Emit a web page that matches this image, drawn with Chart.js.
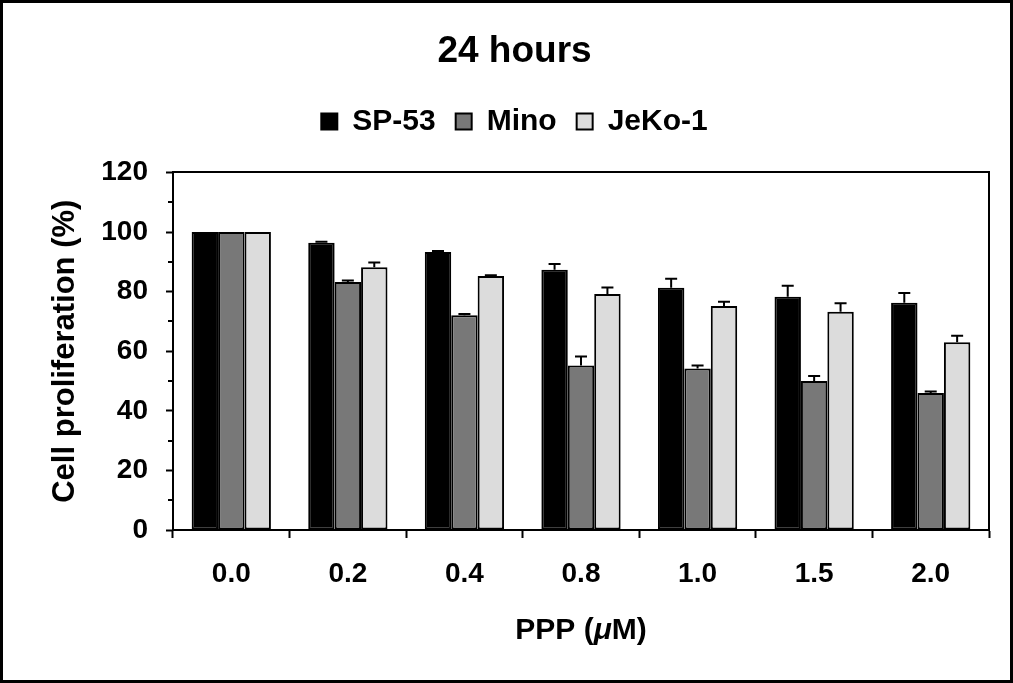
<!DOCTYPE html>
<html>
<head>
<meta charset="utf-8">
<script src="https://cdn.jsdelivr.net/npm/chart.js@4/dist/chart.umd.min.js"></script>
<style>
    body { margin: 0; background: #fff; }
    #wrap { position: relative; width: 1013px; height: 683px; }
    #chart { display: block; }
    #frame {
        position: absolute; left: 0; top: 0; width: 1013px; height: 683px;
        box-sizing: border-box; border: 3px solid #000; pointer-events: none;
    }
</style>
</head>
<body>
<div id="wrap">
    <canvas id="chart" width="1013" height="683"></canvas>
    <div id="frame"></div>
</div>
<script>
// concentrations of PPP (uM)
const doses = ["0.0", "0.2", "0.4", "0.8", "1.0", "1.5", "2.0"];

// cell proliferation (%) per cell line
const sp53 = [100, 96.4, 93.3, 87.3, 81.3, 78.3, 76.3];
const mino = [100, 83.2, 72.1, 55.2, 54.2, 50, 46];
const jeko = [100, 88.2, 85.2, 79.2, 75.2, 73.2, 63];

// upper error bars
const sp53Err = [0, 0.3, 0.3, 2, 3, 3.7, 3.2];
const minoErr = [0, 0.5, 0.4, 3, 1, 1.7, 0.5];
const jekoErr = [0, 1.6, 0.3, 2.2, 1.4, 2.9, 2.2];

const yMinorTicks = [10, 30, 50, 70, 90, 110];

// x axis title, the mu is set in italics
const xTitleParts = [["PPP (", "normal"], ["μ", "italic"], ["M)", "normal"]];

const fontFamily = "'Liberation Sans', Arial, Helvetica, sans-serif";
Chart.defaults.color = "#000";
Chart.defaults.font.family = fontFamily;

const errorBars = {
    id: "errorBars",
    afterDatasetsDraw(chart) {
        const ctx = chart.ctx;
        const y = chart.scales.y;
        ctx.save();
        ctx.strokeStyle = "#000";
        ctx.lineWidth = 2;
        chart.data.datasets.forEach((ds, i) => {
            const meta = chart.getDatasetMeta(i);
            meta.data.forEach((bar, j) => {
                const err = ds.errors[j];
                if (!err) return;
                const top = y.getPixelForValue(ds.data[j] + err);
                ctx.beginPath();
                ctx.moveTo(bar.x, bar.y);
                ctx.lineTo(bar.x, top);
                ctx.moveTo(bar.x - 6, top);
                ctx.lineTo(bar.x + 6, top);
                ctx.stroke();
            });
        });
        ctx.restore();
    }
};

const minorTicks = {
    id: "minorTicks",
    afterDraw(chart) {
        const ctx = chart.ctx;
        const y = chart.scales.y;
        const left = chart.chartArea.left;
        ctx.save();
        ctx.strokeStyle = "#000";
        ctx.lineWidth = 2;
        yMinorTicks.forEach(v => {
            const py = Math.round(y.getPixelForValue(v));
            ctx.beginPath();
            ctx.moveTo(left - 5, py);
            ctx.lineTo(left, py);
            ctx.stroke();
        });
        ctx.restore();
    }
};

const xTitle = {
    id: "xTitle",
    afterDraw(chart) {
        const ctx = chart.ctx;
        const area = chart.chartArea;
        const font = style => style + " bold 30px " + fontFamily;
        ctx.save();
        ctx.fillStyle = "#000";
        ctx.textBaseline = "middle";
        ctx.textAlign = "left";
        let total = 0;
        xTitleParts.forEach(p => { ctx.font = font(p[1]); total += ctx.measureText(p[0]).width; });
        let x = (area.left + area.right) / 2 - total / 2;
        const y = chart.scales.x.bottom - 52;
        xTitleParts.forEach(p => {
            ctx.font = font(p[1]);
            ctx.fillText(p[0], x, y);
            x += ctx.measureText(p[0]).width;
        });
        ctx.restore();
    }
};

function barSet(label, data, errors, color) {
    return {
        label: label,
        data: data,
        errors: errors,
        backgroundColor: color,
        borderColor: "#000",
        borderWidth: 2,
        borderSkipped: false,
        categoryPercentage: 0.68,
        barPercentage: 1.0
    };
}

new Chart(document.getElementById("chart"), {
    type: "bar",
    data: {
        labels: doses,
        datasets: [
            barSet("SP-53", sp53, sp53Err, "#000000"),
            barSet("Mino", mino, minoErr, "#787878"),
            barSet("JeKo-1", jeko, jekoErr, "#dcdcdc")
        ]
    },
    options: {
        responsive: false,
        animation: false,
        layout: { padding: { left: 16, right: 0, top: 0, bottom: 0 } },
        plugins: {
            title: {
                display: true,
                text: "24 hours",
                font: { size: 37, weight: "bold" },
                padding: { top: 30, bottom: 12 }
            },
            legend: {
                display: true,
                labels: {
                    boxWidth: 16,
                    boxHeight: 16,
                    padding: 20,
                    font: { size: 30, weight: "bold" }
                }
            },
            tooltip: { enabled: false }
        },
        scales: {
            x: {
                grid: {
                    offset: true,
                    drawOnChartArea: false,
                    drawTicks: true,
                    tickLength: 8,
                    tickWidth: 2,
                    tickColor: "#000"
                },
                border: { display: true, color: "#000", width: 2 },
                ticks: { font: { size: 28, weight: "bold" }, padding: 19, maxRotation: 0 },
                title: { display: false },
                afterFit(scale) { scale.height = 153; }
            },
            xTop: {
                type: "linear",
                position: "top",
                grid: { display: false },
                ticks: { display: false },
                border: { display: true, color: "#000", width: 2 },
                afterFit(scale) { scale.height = 26; }
            },
            y: {
                min: 0,
                max: 120,
                ticks: { stepSize: 20, font: { size: 28, weight: "bold" }, padding: 18 },
                grid: {
                    drawOnChartArea: false,
                    drawTicks: true,
                    tickLength: 7,
                    tickWidth: 2,
                    tickColor: "#000"
                },
                border: { display: true, color: "#000", width: 2 },
                title: {
                    display: true,
                    text: "Cell proliferation (%)",
                    font: { size: 31, weight: "bold" },
                    padding: { top: 31, bottom: 0 }
                },
                afterFit(scale) { scale.width = 157; }
            },
            yRight: {
                type: "linear",
                position: "right",
                grid: { display: false },
                ticks: { display: false },
                border: { display: true, color: "#000", width: 2 },
                afterFit(scale) { scale.width = 24; }
            }
        }
    },
    plugins: [errorBars, minorTicks, xTitle]
});
</script>
</body>
</html>
